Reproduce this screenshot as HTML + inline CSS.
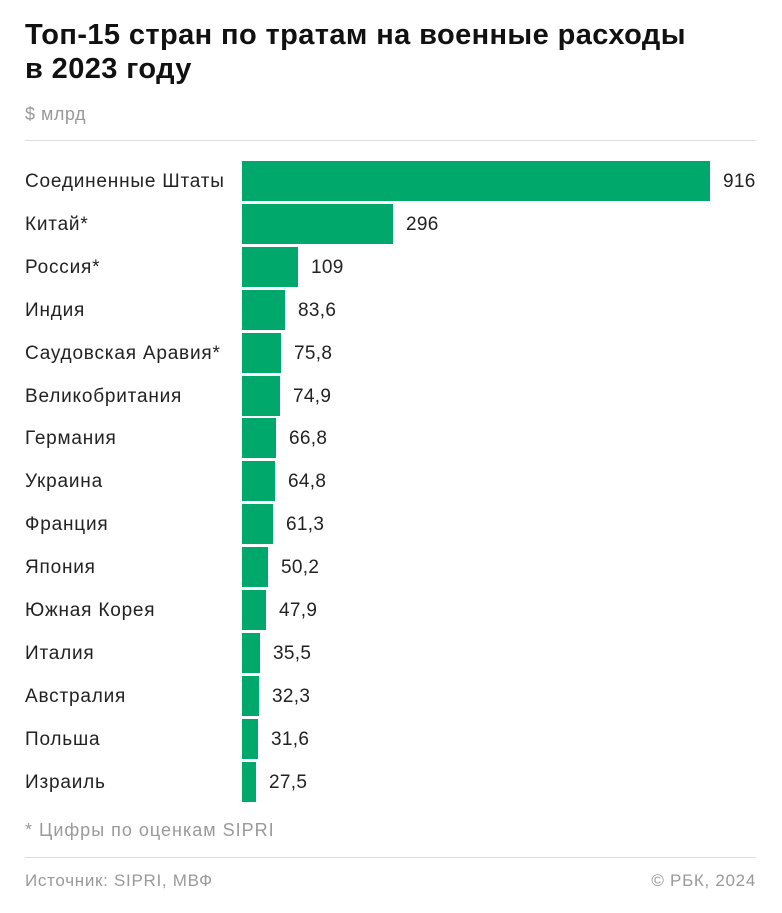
<!DOCTYPE html>
<html><head><meta charset="utf-8"><style>
body{margin:0;background:#fff;font-family:"Liberation Sans",sans-serif;}
.wrap{position:relative;width:782px;height:913px;}
h1{position:absolute;left:25px;top:18px;margin:0;font-size:29px;line-height:34px;font-weight:bold;color:#111;letter-spacing:0.4px;}
.unit{position:absolute;left:25px;top:104px;font-size:18px;color:#999;letter-spacing:0.5px;}
.hr{position:absolute;left:25px;width:731px;height:1px;background:#ddd;}
.row{position:absolute;left:0;width:782px;height:40px;}
.lab{position:absolute;left:25px;top:10px;font-size:19px;color:#222;letter-spacing:0.8px;}
.bar{position:absolute;left:242px;top:0;height:40px;background:#00a86b;}
.val{position:absolute;top:10px;font-size:19px;color:#222;letter-spacing:0.3px;}
.note{position:absolute;left:25px;top:820px;font-size:18px;color:#999;letter-spacing:1px;}
.foot{position:absolute;top:871px;font-size:17px;color:#999;letter-spacing:0.7px;}
</style></head><body><div class="wrap">
<h1>Топ-15 стран по тратам на военные расходы<br>в 2023 году</h1>
<div class="unit">$ млрд</div>
<div class="hr" style="top:140px"></div>
<div id="rows"></div>
<div class="note">* Цифры по оценкам SIPRI</div>
<div class="hr" style="top:857px"></div>
<div class="foot" style="left:25px">Источник: SIPRI, МВФ</div>
<div class="foot" style="right:26px">© РБК, 2024</div>
</div>
<script>
var d=[["Соединенные Штаты",916,"916"],["Китай*",296,"296"],["Россия*",109,"109"],["Индия",83.6,"83,6"],["Саудовская Аравия*",75.8,"75,8"],["Великобритания",74.9,"74,9"],["Германия",66.8,"66,8"],["Украина",64.8,"64,8"],["Франция",61.3,"61,3"],["Япония",50.2,"50,2"],["Южная Корея",47.9,"47,9"],["Италия",35.5,"35,5"],["Австралия",32.3,"32,3"],["Польша",31.6,"31,6"],["Израиль",27.5,"27,5"]];
var h="";
d.forEach(function(r,i){var w=Math.round(r[1]*468/916);var t=161+i*42.9;
h+='<div class="row" style="top:'+t+'px"><div class="lab">'+r[0]+'</div><div class="bar" style="width:'+w+'px"></div><div class="val" style="left:'+(242+w+13)+'px">'+r[2]+'</div></div>';});
document.getElementById("rows").innerHTML=h;
</script>
</body></html>
